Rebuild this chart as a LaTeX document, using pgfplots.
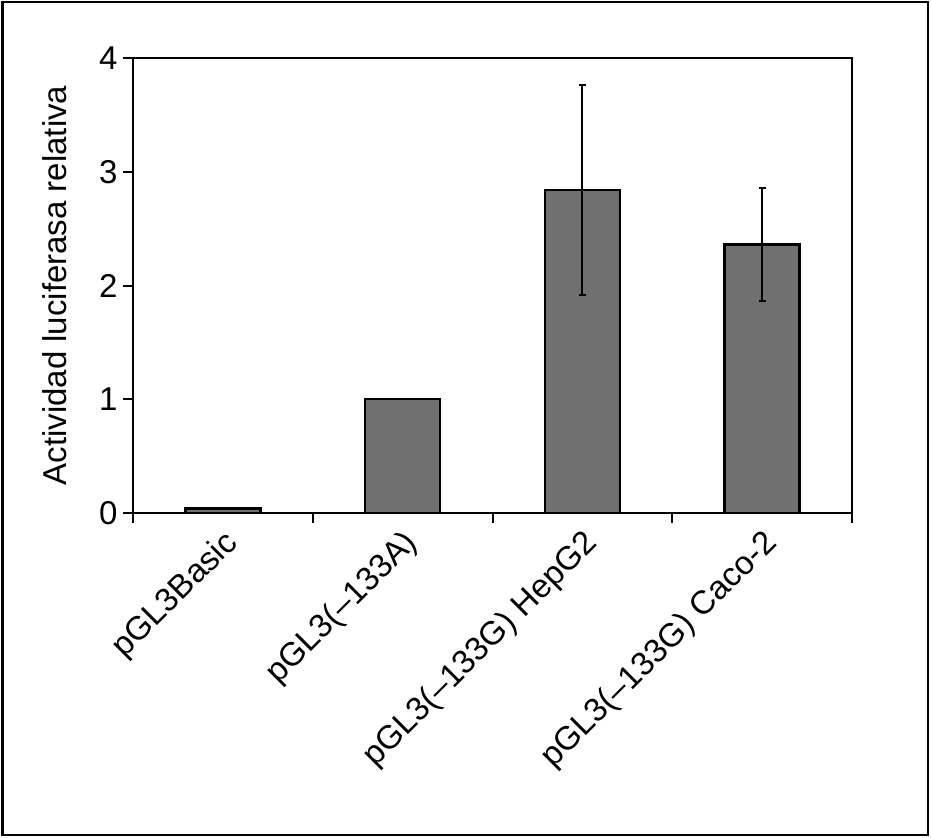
\documentclass[border=0pt]{standalone}
\usepackage{pgfplots}
\pgfplotsset{compat=1.18}
\usepackage{fontspec}
\setmainfont{Liberation Sans}
\definecolor{barfill}{RGB}{112,112,112}
\begin{document}
\begin{tikzpicture}[x=1pt,y=1pt]
\useasboundingbox (0,0) rectangle (465.5,418.5);
\draw[line width=1.2pt] (1.2,1) rectangle (464,417.5);
\begin{axis}[
 at={(66.5pt,162pt)}, anchor=south west,
 scale only axis, width=359.5pt, height=227.5pt,
 xmin=0, xmax=4, ymin=0, ymax=4,
 ytick={0,1,2,3,4},
 xtick={0.5,1.5,2.5,3.5},
 xticklabels={pGL3Basic, pGL3(–133A), pGL3(–133G) HepG2, pGL3(–133G) Caco-2},
 minor xtick={0,1,2,3,4},
 major x tick style={draw=none},
 tick align=outside,
 major tick length=5pt, minor tick length=5pt,
 xtick pos=bottom, ytick pos=left,
 axis line style={line width=1pt},
 every tick/.style={black, line width=1pt},
 ticklabel style={font=\fontsize{16.5}{19}\selectfont},
 /pgf/number format/assume math mode=true,
 yticklabel style={inner sep=2.5pt},
 xticklabel style={xshift=-0.5pt, yshift=-2pt, rotate=45, anchor=north east, inner sep=0pt},
 ylabel={Actividad luciferasa relativa},
 ylabel style={font=\fontsize{16.5}{19}\selectfont, at={(axis description cs:-0.0918,0.5)}, anchor=south, inner sep=0pt},
 ybar, bar width=37.5pt, bar shift=0pt,
]
\addplot[fill=barfill, draw=black, line width=1.2pt]
 coordinates {
  (0.5,0.04)
  (1.5,1.00)
 };
\addplot[fill=barfill, draw=black, line width=1.2pt,
  error bars/.cd, y dir=both, y explicit,
  error bar style={black, line width=1pt},
  error mark options={black, line width=1pt, mark size=1.75pt, rotate=90}]
 coordinates {
  (2.5,2.84) +- (0,0.92)
  (3.5,2.36) +- (0,0.50)
 };
\end{axis}
\end{tikzpicture}
\end{document}
